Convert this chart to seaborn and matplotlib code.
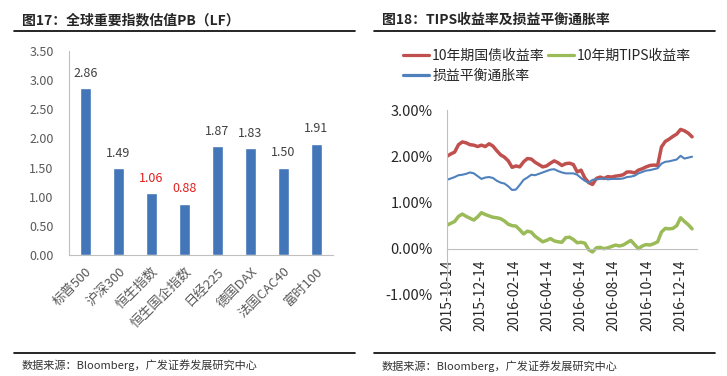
import numpy as np
import pandas as pd
import matplotlib
matplotlib.use("Agg")
import matplotlib.pyplot as plt
import matplotlib.dates as mdates
from matplotlib.lines import Line2D
import seaborn as sns

# left panel: PB of major indices
indices = ["标普500", "沪深300", "恒生指数", "恒生国企指数", "日经225", "德国DAX", "法国CAC40", "富时100"]
pb = [2.86, 1.49, 1.06, 0.88, 1.87, 1.83, 1.50, 1.91]
red_labels = ["恒生指数", "恒生国企指数"]

# right panel: weekly readings from 2015-10-14
start_date = "2015-10-14"
nominal_10y = [2.00, 2.05, 2.09, 2.25, 2.31, 2.29, 2.25, 2.24, 2.21, 2.24, 2.21, 2.27, 2.22,
               2.12, 2.03, 1.98, 1.90, 1.76, 1.79, 1.77, 1.88, 1.95, 1.94, 1.87, 1.82, 1.77,
               1.79, 1.85, 1.90, 1.86, 1.80, 1.84, 1.85, 1.82, 1.66, 1.70, 1.53, 1.43, 1.39,
               1.52, 1.55, 1.52, 1.56, 1.55, 1.57, 1.58, 1.60, 1.66, 1.66, 1.64, 1.70, 1.73,
               1.77, 1.80, 1.81, 1.80, 2.20, 2.32, 2.37, 2.43, 2.48, 2.58, 2.55, 2.50, 2.42]
tips_10y = [0.51, 0.55, 0.59, 0.70, 0.75, 0.70, 0.66, 0.62, 0.69, 0.78, 0.74, 0.71, 0.68,
            0.67, 0.65, 0.60, 0.53, 0.50, 0.49, 0.41, 0.32, 0.38, 0.36, 0.27, 0.21, 0.15,
            0.18, 0.22, 0.17, 0.15, 0.14, 0.24, 0.25, 0.20, 0.13, 0.14, 0.12, -0.02, -0.07,
            0.02, 0.03, 0.00, 0.02, 0.05, 0.08, 0.06, 0.08, 0.13, 0.18, 0.09, 0.00, 0.06,
            0.09, 0.08, 0.11, 0.15, 0.36, 0.44, 0.43, 0.44, 0.50, 0.67, 0.59, 0.52, 0.43]
breakeven = [1.49, 1.52, 1.55, 1.59, 1.60, 1.62, 1.65, 1.63, 1.57, 1.51, 1.54, 1.55, 1.53,
             1.47, 1.43, 1.41, 1.35, 1.27, 1.28, 1.38, 1.49, 1.54, 1.60, 1.59, 1.62, 1.65,
             1.68, 1.71, 1.72, 1.68, 1.65, 1.63, 1.63, 1.63, 1.60, 1.53, 1.47, 1.43, 1.49,
             1.50, 1.51, 1.52, 1.50, 1.51, 1.51, 1.51, 1.52, 1.55, 1.56, 1.58, 1.63, 1.66,
             1.69, 1.70, 1.72, 1.74, 1.84, 1.88, 1.89, 1.91, 1.93, 2.01, 1.95, 1.97, 1.99]
date_ticks = ["2015-10-14", "2015-12-14", "2016-02-14", "2016-04-14",
              "2016-06-14", "2016-08-14", "2016-10-14", "2016-12-14"]
series_names = ["10年期国债收益率", "10年期TIPS收益率", "损益平衡通胀率"]

sns.set_style("white")
plt.rcParams["font.family"] = ["Noto Sans CJK SC", "DejaVu Sans"]
plt.rcParams["axes.unicode_minus"] = False

W, H = 727, 376
fig = plt.figure(figsize=(W / 100, H / 100), dpi=100)
tick_col = "#595959"
spine_col = "#BFBFBF"

# ---- left bar chart
ax1 = fig.add_axes([69 / W, 1 - 255 / H, 264 / W, 204 / H])
sns.barplot(x=indices, y=pb, color="#4375B9", width=0.32, saturation=1, ax=ax1)
ax1.set_ylim(0, 3.5)
ax1.set_xlim(-0.5, len(indices) - 0.5)
ax1.set_yticks(np.arange(0, 3.51, 0.5))
ax1.set_yticklabels([f"{v:.2f}" for v in np.arange(0, 3.51, 0.5)])
ax1.tick_params(axis="y", length=0, pad=11, labelsize=9, labelcolor=tick_col)
ax1.tick_params(axis="x", length=0, pad=7, labelsize=9.5, labelcolor=tick_col)
plt.setp(ax1.get_xticklabels(), rotation=45, ha="right", rotation_mode="anchor")
ax1.set_xlabel("")
ax1.set_ylabel("")
for s in ["top", "right"]:
    ax1.spines[s].set_visible(False)
for s in ["left", "bottom"]:
    ax1.spines[s].set_color(spine_col)
    ax1.spines[s].set_linewidth(0.8)
for i, (name, v) in enumerate(zip(indices, pb)):
    col = "#E0201F" if name in red_labels else "#404040"
    ax1.annotate(f"{v:.2f}", (i, v), xytext=(0, 6), textcoords="offset points",
                 ha="center", va="bottom", fontsize=9, color=col)

# ---- right line chart
df = pd.DataFrame({
    "date": pd.date_range(start_date, periods=len(nominal_10y), freq="7D"),
    series_names[0]: nominal_10y,
    series_names[1]: tips_10y,
    series_names[2]: breakeven,
})
ax2 = fig.add_axes([447 / W, 1 - 295 / H, 250 / W, 185 / H])
colors = ["#C0504D", "#9BBB59", "#4F81BD"]
widths = [2.5, 2.5, 1.5]
for name, c, lw in zip(series_names, colors, widths):
    sns.lineplot(data=df, x="date", y=name, color=c, linewidth=lw, ax=ax2, legend=False)
ax2.set_ylim(-1, 3)
ax2.set_yticks([-1, 0, 1, 2, 3])
ax2.set_yticklabels([f"{v:.2f}%" for v in [-1, 0, 1, 2, 3]])
ax2.set_xlim(pd.Timestamp(start_date), pd.Timestamp("2017-01-13"))
ax2.set_xticks(pd.to_datetime(date_ticks))
ax2.xaxis.set_major_formatter(mdates.DateFormatter("%Y-%m-%d"))
ax2.tick_params(axis="y", length=0, pad=10, labelsize=10.5, labelcolor="#262626")
ax2.tick_params(axis="x", length=4, width=0.8, color=spine_col, pad=4, labelsize=10,
                labelcolor="#262626", rotation=90)
ax2.set_xlabel("")
ax2.set_ylabel("")
ax2.spines["bottom"].set_position(("data", 0))
for s in ["top", "right"]:
    ax2.spines[s].set_visible(False)
for s in ["left", "bottom"]:
    ax2.spines[s].set_color(spine_col)
    ax2.spines[s].set_linewidth(0.8)

handles = [Line2D([], [], color=colors[0], lw=2.3),
           Line2D([], [], color=colors[2], lw=2.3),
           Line2D([], [], color=colors[1], lw=2.3)]
fig.legend(handles, [series_names[0], series_names[2], series_names[1]],
           loc="upper left", bbox_to_anchor=(403 / W, 1 - 49 / H), ncol=2, frameon=False,
           handlelength=1.9, handletextpad=0.2, columnspacing=0.2, borderpad=0,
           borderaxespad=0, labelspacing=0.45, fontsize=10, labelcolor="#262626")

# ---- titles, rules and footers
fig.text(22 / W, 1 - 20 / H, "图17：全球重要指数估值PB（LF）", fontsize=10,
         fontweight="bold", va="center", ha="left")
fig.text(382 / W, 1 - 20 / H, "图18：TIPS收益率及损益平衡通胀率", fontsize=10,
         fontweight="bold", va="center", ha="left")
for x0, x1 in [(14, 355), (374, 715)]:
    for y in [30.7, 352.5]:
        fig.add_artist(Line2D([x0 / W, x1 / W], [1 - y / H, 1 - y / H], color="black", lw=1.2))
fig.text(22 / W, 1 - 365 / H, "数据来源：Bloomberg，广发证券发展研究中心", fontsize=8,
         va="center", ha="left", color="#333333")
fig.text(382 / W, 1 - 366 / H, "数据来源：Bloomberg，广发证券发展研究中心", fontsize=8,
         va="center", ha="left", color="#333333")

fig.savefig("out.png", dpi=100)
